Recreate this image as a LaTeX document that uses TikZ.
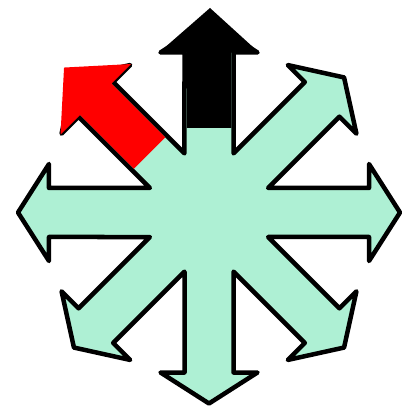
\documentclass[tikz,border=0pt]{standalone}
\usepackage{amsmath,amssymb}
\usepackage{tikz}
\definecolor{mint}{RGB}{174,240,212}

\begin{document}
\begin{tikzpicture}[x=1pt,y=1pt,
  outline/.style={draw=black,line width=4.5pt,line join=round,fill=mint}]
  \useasboundingbox (-209,-196.5) rectangle (193,212.5);

  % Aštuonių krypčių rodyklė: koto pusplotis 24.5, spygliai ties 160, smaigalys ties 191
  % vidinis kampas tarp gretimų kotų: 24.5/tan(22.5) = 59.15
  \filldraw[outline] (59.15,-24.5)
    \foreach \a in {0,45,...,315} {
      -- ([rotate=\a]160,-24.5) -- ([rotate=\a]160,-48.5) -- ([rotate=\a]191,0)
      -- ([rotate=\a]160,48.5) -- ([rotate=\a]160,24.5)
      -- ([rotate=\a+45]59.15,-24.5)
    } -- cycle;

  % Raudona rodyklė (šiaurės vakarai), smaigalys ilgesnis
  \fill[red,rotate=135] (84,-22.25) -- (160,-22.25) -- (160,-50) -- (205,0)
    -- (160,50) -- (160,22.25) -- (84,22.25) -- cycle;

  % Juoda rodyklė (šiaurė)
  \fill[black,rotate=90] (84.5,-22.25) -- (160,-22.25) -- (159.5,-50.5) -- (204.5,-1)
    -- (159.5,50.5) -- (160,22.25) -- (84.5,22.25) -- cycle;
\end{tikzpicture}
\end{document}
